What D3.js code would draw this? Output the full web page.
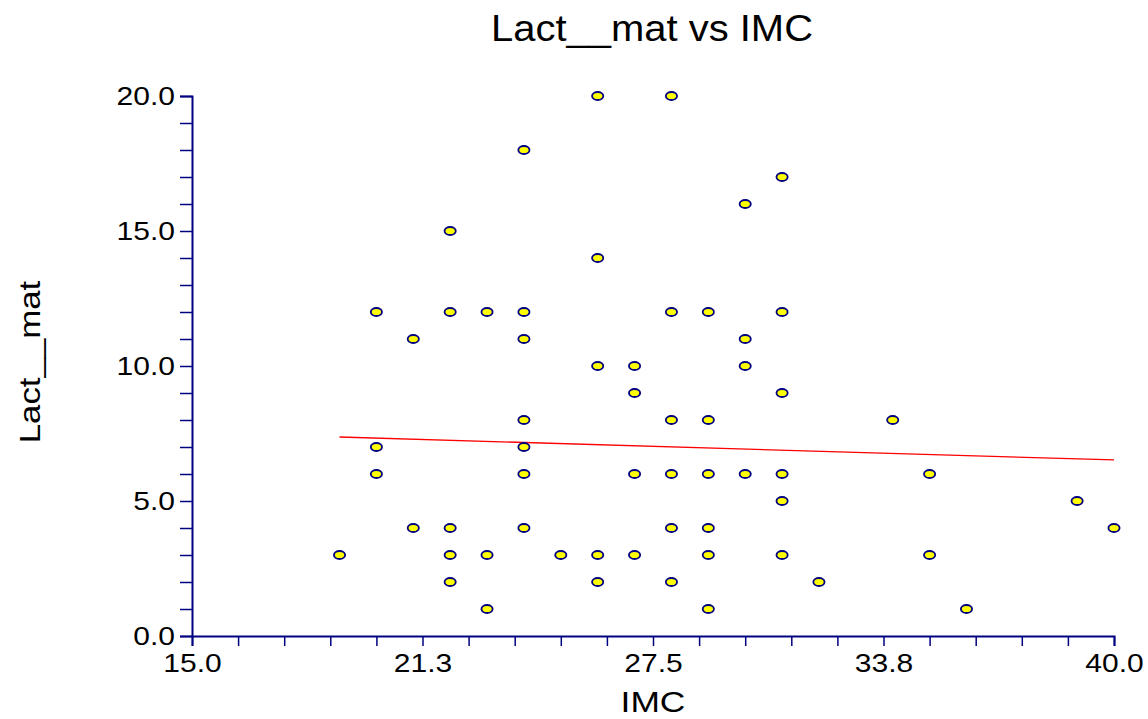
<!DOCTYPE html>
<html>
<head>
<meta charset="utf-8">
<script src="https://cdn.jsdelivr.net/npm/d3@7"></script>
<style>
  body { margin: 0; background: #fff; }
  text { font-family: Arial, "Liberation Sans", sans-serif; fill: #000; }
</style>
</head>
<body>
<div id="chart-container"></div>
<script>
const WIDTH = 1148;
const HEIGHT = 719;
const MARGIN = {top: 96, right: 34, bottom: 83, left: 192};
const PLOT_WIDTH = WIDTH - MARGIN.left - MARGIN.right;
const PLOT_HEIGHT = HEIGHT - MARGIN.top - MARGIN.bottom;

// data
const imc = [19, 20, 20, 20, 21, 21, 22, 22, 22, 22, 22, 23, 23, 23,
  24, 24, 24, 24, 24, 24, 24, 25, 26, 26, 26, 26, 26, 27, 27, 27, 27,
  28, 28, 28, 28, 28, 28, 29, 29, 29, 29, 29, 29, 30, 30, 30, 30,
  31, 31, 31, 31, 31, 31, 32, 34, 35, 35, 36, 39, 40];
const lact = [3, 12, 7, 6, 11, 4, 15, 12, 4, 3, 2, 12, 3, 1,
  18, 12, 11, 8, 7, 6, 4, 3, 20, 14, 10, 3, 2, 10, 9, 6, 3,
  20, 12, 8, 6, 4, 2, 12, 8, 6, 4, 3, 1, 16, 11, 10, 6,
  17, 12, 9, 6, 5, 3, 2, 8, 6, 3, 1, 5, 4];
// fitted line ends as drawn
const fitX = [19, 40];
const fitY = [7.37, 6.52];

const xTickLabels = ["15.0", "21.3", "27.5", "33.8", "40.0"];
const yTickLabels = ["0.0", "5.0", "10.0", "15.0", "20.0"];

const AXIS_COLOR = "#000080";

// stretch text horizontally a bit, the original font is wider than Arial
function stretch(sel, factor) {
    sel.each(function() {
        const len = this.getComputedTextLength();
        d3.select(this)
          .attr("textLength", len * factor)
          .attr("lengthAdjust", "spacingAndGlyphs");
    });
}

setup();

function setup() {
    const svg = d3.select("#chart-container").append("svg")
      .attr("width", WIDTH)
      .attr("height", HEIGHT);
    svg.append("rect")
      .attr("width", "100%")
      .attr("height", "100%")
      .attr("fill", "#fff");

    const chart = svg.append("g")
      .attr("transform", `translate(${MARGIN.left},${MARGIN.top})`);

    const xScale = d3.scaleLinear().domain([15, 40]).range([0, PLOT_WIDTH]);
    const yScale = d3.scaleLinear().domain([0, 20]).range([PLOT_HEIGHT, 0]);

    // X axis, minor ticks every 1.25 and labels every 5th tick
    const xTicks = d3.range(21).map(i => 15 + i * 1.25);
    const xAxis = chart.append("g")
      .attr("transform", `translate(0,${PLOT_HEIGHT})`)
      .call(d3.axisBottom(xScale)
        .tickValues(xTicks)
        .tickSize(10)
        .tickPadding(7)
        .tickFormat((d, i) => i % 5 === 0 ? xTickLabels[i / 5] : ""));

    // Y axis
    const yTicks = d3.range(21);
    const yAxis = chart.append("g")
      .call(d3.axisLeft(yScale)
        .tickValues(yTicks)
        .tickSize(12)
        .tickPadding(5)
        .tickFormat((d, i) => i % 5 === 0 ? yTickLabels[i / 5] : ""));

    [xAxis, yAxis].forEach(ax => {
        ax.select(".domain").attr("stroke", AXIS_COLOR).attr("stroke-width", 2);
        ax.selectAll(".tick line").attr("stroke", AXIS_COLOR).attr("stroke-width", 1.5);
        ax.selectAll(".tick text")
          .attr("font-size", 25)
          .attr("font-family", "Arial, 'Liberation Sans', sans-serif")
          .attr("fill", "#000");
    });
    xAxis.selectAll(".tick text").attr("dy", "0.75em");
    stretch(xAxis.selectAll(".tick text").filter(function() { return this.textContent !== ""; }), 1.2);
    stretch(yAxis.selectAll(".tick text").filter(function() { return this.textContent !== ""; }), 1.2);

    // fitted line
    chart.append("line")
      .attr("x1", xScale(fitX[0]))
      .attr("y1", yScale(fitY[0]))
      .attr("x2", xScale(fitX[1]))
      .attr("y2", yScale(fitY[1]))
      .attr("stroke", "#ff0000")
      .attr("stroke-width", 1.3);

    // points
    chart.selectAll(".pt")
      .data(d3.range(imc.length))
      .enter()
      .append("ellipse")
      .attr("class", "pt")
      .attr("cx", i => xScale(imc[i]))
      .attr("cy", i => yScale(lact[i]))
      .attr("rx", 5.6)
      .attr("ry", 4)
      .attr("fill", "#ffff00")
      .attr("stroke", AXIS_COLOR)
      .attr("stroke-width", 1.8);

    // title
    const title = svg.append("text")
      .attr("x", 652)
      .attr("y", 41)
      .attr("text-anchor", "middle")
      .attr("font-size", 37)
      .text("Lact__mat vs IMC");
    stretch(title, 1.08);

    // axis titles
    const xTitle = svg.append("text")
      .attr("x", MARGIN.left + PLOT_WIDTH / 2)
      .attr("y", 712)
      .attr("text-anchor", "middle")
      .attr("font-size", 30)
      .text("IMC");
    stretch(xTitle, 1.18);

    const yTitle = svg.append("text")
      .attr("transform", `translate(40,${MARGIN.top + PLOT_HEIGHT / 2 - 4}) rotate(-90)`)
      .attr("text-anchor", "middle")
      .attr("font-size", 29)
      .text("Lact__mat");
    stretch(yTitle, 1.2);
}
</script>
</body>
</html>
